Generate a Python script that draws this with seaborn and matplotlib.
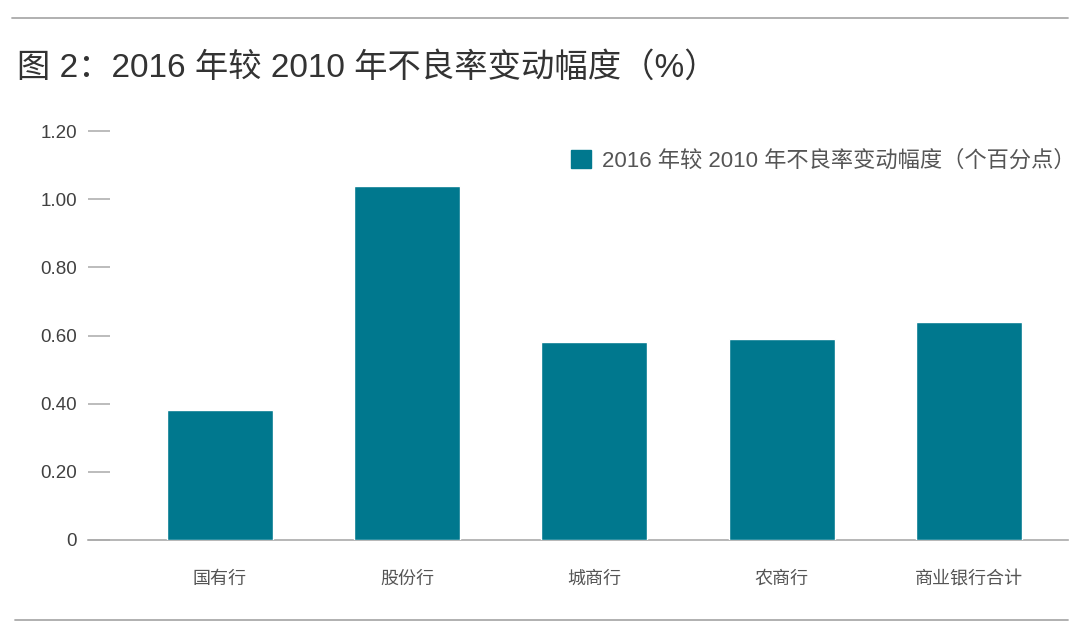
import matplotlib
matplotlib.use("Agg")
import matplotlib.pyplot as plt
from matplotlib.patches import Patch
from matplotlib.lines import Line2D
import seaborn as sns

# datos
bancos = ["国有行", "股份行", "城商行", "农商行", "商业银行合计"]
variacion = [0.38, 1.04, 0.58, 0.59, 0.64]
ticks_y = [0, 0.2, 0.4, 0.6, 0.8, 1.0, 1.2]
etiquetas_y = ["0", "0.20", "0.40", "0.60", "0.80", "1.00", "1.20"]

titulo = "图 2：2016 年较 2010 年不良率变动幅度（%）"
leyenda = "2016 年较 2010 年不良率变动幅度（个百分点）"

sns.set_style("white")
plt.rcParams['font.family'] = ['Liberation Sans', 'Noto Sans CJK SC', 'DejaVu Sans']

color_barra = "#00788e"
gris = "#aaaaaa"

fig = plt.figure(figsize=(10.8, 6.43), dpi=100)
ax = fig.add_axes([88/1080, 1 - 540/643, (1068 - 88)/1080, (540 - 131)/643])

sns.barplot(x=bancos, y=variacion, color=color_barra, width=0.567, ax=ax,
            saturation=1)

ax.set_ylim(0, 1.2)
ax.set_xlim(-0.705, 4.53)
ax.set_yticks(ticks_y)
ax.set_yticklabels(etiquetas_y, fontsize=13.5, color="#404040")
ax.tick_params(axis='y', left=True, direction='in', length=16, width=1.1,
               color=gris, pad=8)
ax.tick_params(axis='x', length=0, pad=22, labelsize=13, labelcolor="#555555")
ax.set_xlabel("")
ax.set_ylabel("")

for lado in ['top', 'right', 'left']:
    ax.spines[lado].set_visible(False)
ax.spines['bottom'].set_color(gris)
ax.spines['bottom'].set_linewidth(1.2)
ax.spines['bottom'].set_zorder(0)

# líneas separadoras arriba y abajo
fig.add_artist(Line2D([12/1080, 1068/1080], [1 - 18/643, 1 - 18/643],
                      color=gris, linewidth=1.3))
fig.add_artist(Line2D([15/1080, 1068/1080], [1 - 620/643, 1 - 620/643],
                      color=gris, linewidth=1.3))

fig.text(17/1080, 1 - 68/643, titulo, fontsize=24, color="#333333",
         ha='left', va='center')

fig.legend(handles=[Patch(color=color_barra)], labels=[leyenda],
           loc='center left', bbox_to_anchor=(571/1080, 1 - 161/643),
           frameon=False, fontsize=16, labelcolor="#555555",
           handlelength=0.88, handleheight=0.88, handletextpad=0.5,
           borderpad=0, borderaxespad=0)

fig.savefig("out.png", dpi=100)
